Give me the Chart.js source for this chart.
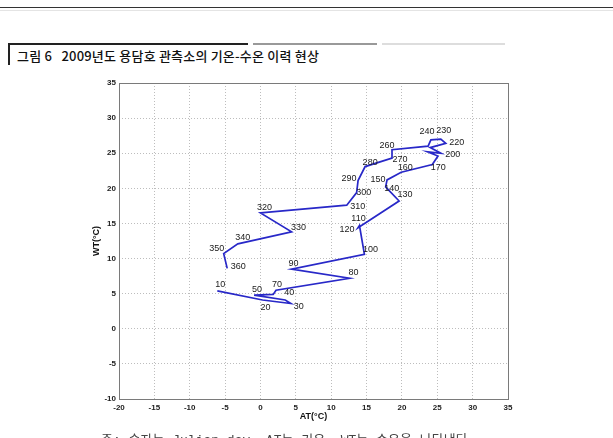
<!DOCTYPE html>
<html>
<head>
<meta charset="utf-8">
<script src="https://cdn.jsdelivr.net/npm/chart.js@4"></script>
<style>
    html, body { margin: 0; padding: 0; background: #ffffff; }
    body { width: 613px; height: 438px; position: relative; overflow: hidden; font-family: 'Noto Sans CJK KR', sans-serif; }
    .topline { position: absolute; left: 0; top: 7px; width: 613px; height: 1px; background: #333; }
    .topline2 { position: absolute; left: 0; top: 10px; width: 613px; height: 1px; background: #e4e4e4; }
    .tbar { position: absolute; top: 43px; height: 2px; }
    .tleft { position: absolute; left: 8px; top: 43px; width: 2px; height: 22px; background: #222; }
    .title { position: absolute; left: 17px; top: 46px; font-size: 13px; font-weight: 500; color: #111; white-space: pre; letter-spacing: 0.2px; }
    .note { position: absolute; left: 101px; top: 429px; font-size: 13px; color: #444; white-space: pre; font-family: 'Liberation Mono', 'Noto Sans CJK KR', monospace; }
    #wrap { position: absolute; left: 0; top: 70px; width: 613px; height: 360px; }
</style>
</head>
<body>
<div class="topline"></div>
<div class="topline2"></div>
<div class="tbar" style="left:8px;width:240px;background:#222;"></div>
<div class="tbar" style="left:253px;width:124px;background:#999;"></div>
<div class="tbar" style="left:382px;width:123px;background:#ddd;"></div>
<div class="tleft"></div>
<div class="title">그림 6   2009년도 용담호 관측소의 기온-수온 이력 현상</div>
<div id="wrap"><canvas id="chart" width="613" height="360"></canvas></div>
<div class="note">주: 숫자는 Julian day, AT는 기온, WT는 수온을 나타낸다.</div>
<script>
// Julian day (10-day steps), air temperature and water temperature
const days = [10, 20, 30, 40, 50, 60, 70, 80, 90, 100, 110, 120,
    130, 140, 150, 160, 170, 180, 190, 200, 210, 220, 230, 240,
    250, 260, 270, 280, 290, 300, 310, 320, 330, 340, 350, 360];
const airTemp = [-6.1, 0.3, 4.3, 3.5, -0.9, 1.8, 2.2, 12.6, 4.4, 14.7, 14.0, 13.8,
    19.6, 17.7, 17.9, 19.9, 24.3, 25.1, 23.6, 25.5, 24.0, 26.2, 25.5, 24.1,
    23.7, 18.6, 18.6, 14.8, 13.8, 13.6, 12.2, 0.0, 4.4, -3.2, -5.2, -4.7];
const waterTemp = [5.4, 4.1, 3.6, 4.1, 4.8, 4.9, 5.5, 7.2, 8.5, 10.6, 14.7, 14.4,
    18.2, 20.2, 21.2, 22.3, 23.4, 24.6, 25.2, 25.0, 25.8, 26.4, 27.0, 26.9,
    26.0, 25.5, 24.3, 23.1, 21.1, 19.4, 17.6, 16.5, 13.8, 12.1, 10.7, 8.6];
const hiddenLabels = [60, 180, 190, 210, 250];

const xTicks = [-20, -15, -10, -5, 0, 5, 10, 15, 20, 25, 30, 35];
const yTicks = [-10, -5, 0, 5, 10, 15, 20, 25, 30, 35];

// where each day label sits relative to its point (px)
const labelOffsets = {
    10: [3, -6], 20: [3, 8], 30: [8, 3], 40: [4, -7], 50: [3, -6], 70: [1, -6],
    80: [4, -6], 90: [2, -6], 100: [6, -5], 110: [-1, -7], 120: [-11, 2],
    130: [6, -6], 140: [6, 2], 150: [-9, 0], 160: [4, -5], 170: [6, 3],
    200: [12, 1], 220: [11, -1], 230: [3, -9], 240: [-4, -8], 260: [-5, -4],
    270: [8, 1], 280: [5, -4], 290: [-9, -2], 300: [7, 0], 310: [11, 1],
    320: [4, -5], 330: [7, -4], 340: [5, -6], 350: [-7, -5], 360: [11, -2]
};

const points = days.map((d, i) => ({ x: airTemp[i], y: waterTemp[i], day: d }));

const frameAndLabels = {
    id: 'frameAndLabels',
    afterDatasetsDraw(chart) {
        const ctx = chart.ctx;
        const area = chart.chartArea;
        ctx.save();
        ctx.strokeStyle = '#7a7a7a';
        ctx.lineWidth = 1;
        ctx.strokeRect(Math.round(area.left) + 0.5, Math.round(area.top) + 0.5,
            Math.round(area.right - area.left), Math.round(area.bottom - area.top));

        const meta = chart.getDatasetMeta(0);
        ctx.font = '9px Arial, "Liberation Sans", sans-serif';
        ctx.fillStyle = '#1a1a1a';
        ctx.textAlign = 'center';
        ctx.textBaseline = 'middle';
        meta.data.forEach((pt, i) => {
            const d = days[i];
            if (hiddenLabels.includes(d)) return;
            const off = labelOffsets[d] || [5, -5];
            ctx.fillText(String(d), pt.x + off[0], pt.y + off[1]);
        });
        ctx.restore();
    }
};

const tickFont = { family: 'Arial, "Liberation Sans", sans-serif', size: 8, weight: 'bold' };

new Chart(document.getElementById('chart'), {
    type: 'scatter',
    data: {
        datasets: [{
            data: points,
            showLine: true,
            borderColor: '#2828c8',
            borderWidth: 1.7,
            pointRadius: 0,
            tension: 0
        }]
    },
    options: {
        responsive: false,
        animation: false,
        layout: {
            padding: { left: 79, right: 105, top: 13, bottom: 0 }
        },
        plugins: {
            legend: { display: false },
            tooltip: { enabled: false }
        },
        scales: {
            x: {
                type: 'linear',
                min: -20,
                max: 35,
                afterFit: (scale) => { scale.height = 31; },
                afterBuildTicks: (scale) => { scale.ticks = xTicks.map(v => ({ value: v })); },
                grid: { color: '#bdbdbd', lineWidth: 1, drawTicks: false },
                border: { display: false, dash: [1, 2] },
                ticks: { color: '#222', font: tickFont, padding: 4, maxRotation: 0, autoSkip: false },
                title: {
                    display: true,
                    text: 'AT(°C)',
                    color: '#111',
                    font: { family: 'Arial, "Liberation Sans", sans-serif', size: 9, weight: 'bold' },
                    padding: { top: 0, bottom: 8 }
                }
            },
            y: {
                type: 'linear',
                min: -10,
                max: 35,
                afterFit: (scale) => { scale.width = 40; },
                afterBuildTicks: (scale) => { scale.ticks = yTicks.map(v => ({ value: v })); },
                grid: { color: '#bdbdbd', lineWidth: 1, drawTicks: false },
                border: { display: false, dash: [1, 2] },
                ticks: { color: '#222', font: tickFont, padding: 3, autoSkip: false },
                title: {
                    display: true,
                    text: 'WT(°C)',
                    color: '#111',
                    font: { family: 'Arial, "Liberation Sans", sans-serif', size: 9, weight: 'bold' },
                    padding: { top: 12, bottom: 0 }
                }
            }
        }
    },
    plugins: [frameAndLabels]
});
</script>
</body>
</html>
